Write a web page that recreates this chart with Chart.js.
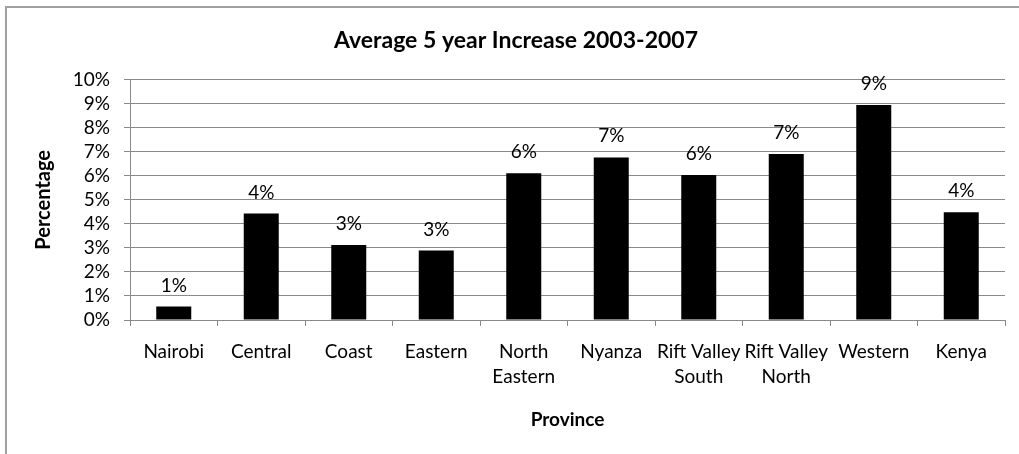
<!DOCTYPE html>
<html>
<head>
<meta charset="utf-8">
<script src="https://cdn.jsdelivr.net/npm/chart.js@4.4.0/dist/chart.umd.min.js"></script>
<style>
  html, body { margin: 0; padding: 0; background: #ffffff; }
  #wrap { width: 1019px; height: 454px; position: relative; }
</style>
</head>
<body>
<div id="wrap"><canvas id="chart" width="1019" height="454"></canvas></div>
<script>
// Provinces (multi-line names are split into arrays)
const provinces = [
  'Nairobi', 'Central', 'Coast', 'Eastern', ['North', 'Eastern'],
  'Nyanza', ['Rift Valley', 'South'], ['Rift Valley', 'North'], 'Western', 'Kenya'
];
// Average 5 year increase 2003-2007, in percent
const increase = [0.56, 4.43, 3.12, 2.89, 6.10, 6.76, 6.03, 6.90, 8.94, 4.48];
// Y axis tick range, in percent
const yTickMin = 0;
const yTickMax = 10;
const yTickStep = 1;

const FONT = 'Lato, "Open Sans", sans-serif';
const GRID = '#8a8a8a';

// Outer frame of the chart object
const framePlugin = {
  id: 'frame',
  beforeDraw(chart) {
    const ctx = chart.ctx;
    ctx.save();
    ctx.fillStyle = '#ffffff';
    ctx.fillRect(0, 0, chart.width, chart.height);
    ctx.strokeStyle = '#a0a0a0';
    ctx.lineWidth = 2;
    ctx.strokeRect(6, 7, chart.width + 40, chart.height + 40);
    ctx.restore();
  }
};

// Rounded value labels above each bar
const valueLabels = {
  id: 'valueLabels',
  afterDatasetsDraw(chart) {
    const ctx = chart.ctx;
    const meta = chart.getDatasetMeta(0);
    const data = chart.data.datasets[0].data;
    ctx.save();
    ctx.font = '19px ' + FONT;
    ctx.fillStyle = '#000000';
    ctx.textAlign = 'center';
    ctx.textBaseline = 'alphabetic';
    meta.data.forEach((bar, i) => {
      ctx.fillText(Math.round(data[i]) + '%', bar.x, bar.y - 15);
    });
    ctx.restore();
  }
};

new Chart(document.getElementById('chart'), {
  type: 'bar',
  data: {
    labels: provinces,
    datasets: [{
      data: increase,
      backgroundColor: '#000000',
      borderWidth: 0,
      categoryPercentage: 1.0,
      barPercentage: 0.4
    }]
  },
  options: {
    responsive: false,
    animation: false,
    devicePixelRatio: 1,
    layout: { padding: { left: 27, right: 14, top: 0, bottom: 0 } },
    plugins: {
      legend: { display: false },
      tooltip: { enabled: false },
      title: {
        display: true,
        text: 'Average 5 year Increase 2003-2007',
        color: '#000000',
        font: { family: FONT, size: 23, weight: 'bold', lineHeight: 1.2 },
        padding: { top: 27, bottom: 25 }
      }
    },
    scales: {
      x: {
        offset: true,
        afterFit(scale) { scale.height = 134; },
        grid: { display: true, drawOnChartArea: false, drawTicks: true, tickLength: 6, color: GRID, offset: true },
        border: { display: true, color: GRID, width: 1 },
        ticks: {
          color: '#000000',
          autoSkip: false,
          maxRotation: 0,
          minRotation: 0,
          padding: 14,
          font: { family: FONT, size: 19, lineHeight: 1.3 }
        },
        title: {
          display: true,
          text: 'Province',
          color: '#000000',
          font: { family: FONT, size: 19, weight: 'bold', lineHeight: 1.2 },
          padding: { top: 0, bottom: 23 }
        }
      },
      y: {
        min: yTickMin,
        max: yTickMax,
        afterFit(scale) { scale.width = 103; },
        grid: { display: true, drawOnChartArea: true, drawTicks: true, tickLength: 6, color: GRID },
        border: { display: true, color: GRID, width: 1 },
        ticks: {
          stepSize: yTickStep,
          autoSkip: false,
          color: '#000000',
          padding: 14,
          font: { family: FONT, size: 19 },
          callback: (v) => v + '%'
        },
        title: {
          display: true,
          text: 'Percentage',
          color: '#000000',
          font: { family: FONT, size: 20, weight: 'bold', lineHeight: 1.2 },
          padding: { top: 5, bottom: 0 }
        }
      }
    }
  },
  plugins: [framePlugin, valueLabels]
});
</script>
</body>
</html>
